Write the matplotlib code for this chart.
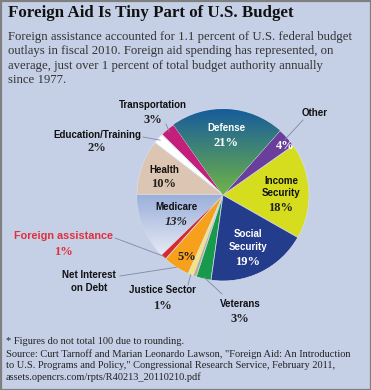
import numpy as np
import matplotlib
matplotlib.use("Agg")
import matplotlib.pyplot as plt
from matplotlib.colors import LinearSegmentedColormap
from matplotlib.patches import Rectangle

# budget shares, counter-clockwise starting at the Income Security slice
categories = ["Income Security", "Other", "Defense", "Transportation",
              "Education/Training", "Health", "Medicare", "Foreign assistance",
              "Net Interest on Debt", "Justice Sector", "Unlabeled", "Veterans",
              "Social Security"]
shares = [18.0, 3.7, 21.3, 2.8, 2.0, 10.4, 12.3, 1.1, 5.0, 1.0, 0.6, 2.8, 19.0]
pct_labels = ["18%", "4%", "21%", "3%", "2%", "10%", "13%", "1%", "5%", "1%", "", "3%", "19%"]
colors = ["#d6dc1e", "#6a3f9c", "#2a7a80", "#c41f7a", "#ffffff", "#dcc5b2",
          "#b8c6e6", "#d62a2e", "#f6a01c", "#f4e47c", "#b9a98e", "#179a4c", "#243c8c"]

title = "Foreign Aid Is Tiny Part of U.S. Budget"
intro = ["Foreign assistance accounted for 1.1 percent of U.S. federal budget",
         "outlays in fiscal 2010. Foreign aid spending has represented, on",
         "average, just over 1 percent of total budget authority annually",
         "since 1977."]
footnote = "* Figures do not total 100 due to rounding."
source = ["Source: Curt Tarnoff and Marian Leonardo Lawson, \"Foreign Aid: An Introduction",
          "to U.S. Programs and Policy,\" Congressional Research Service, February 2011,",
          "assets.opencrs.com/rpts/R40213_20110210.pdf"]

W, H = 371, 390
bg = "#c5d0e7"
serif = "Liberation Serif"
sans = "Liberation Sans"


def Y(y):
    return H - y


fig = plt.figure(figsize=(3.71, 3.90), dpi=100)
fig.patch.set_facecolor(bg)
ax = fig.add_axes([0, 0, 1, 1])

cx, cy, R = 223, Y(195), 86
wedges, _ = ax.pie(shares, colors=colors, startangle=-29.6, counterclock=True,
                   center=(cx, cy), radius=R,
                   wedgeprops=dict(edgecolor="#d9dde8", linewidth=0.5))
ax.set_xlim(0, W)
ax.set_ylim(0, H)
ax.set_aspect("equal")
ax.axis("off")


def gradient_fill(wedge, c_top, c_bot, y_top, y_bot):
    cmap = LinearSegmentedColormap.from_list("g", [c_bot, c_top])
    grad = np.linspace(0, 1, 256).reshape(-1, 1)
    im = ax.imshow(grad, cmap=cmap, origin="lower", aspect="auto",
                   extent=[cx - R, cx + R, y_bot, y_top], zorder=1.5)
    im.set_clip_path(wedge)


gradient_fill(wedges[2], "#175c9c", "#70b446", Y(109), Y(195))
gradient_fill(wedges[6], "#9bb0db", "#eef0f7", Y(195), Y(262))
ax.set_xlim(0, W)
ax.set_ylim(0, H)


def mid_point(i, frac):
    w = wedges[i]
    a = np.deg2rad((w.theta1 + w.theta2) / 2)
    return cx + R * frac * np.cos(a), cy + R * frac * np.sin(a)


# title and intro
ax.text(8, Y(13), title, family=serif, weight="bold", size=12.2, va="center", color="#111111")
for k, line in enumerate(intro):
    ax.text(8, Y(37 + 14.4 * k), line, family=serif, size=9.2, va="center", color="#333333")

lab = dict(family=sans, weight="bold", size=7, ha="center", va="center", color="#111111")
pct = dict(family=serif, weight="bold", size=9, ha="center", va="center", color="#222222")
white_lab = dict(lab, color="white")
white_pct = dict(pct, color="white")
line_kw = dict(color="#7d8aa3", lw=0.6)

# labels inside slices
ax.text(226, Y(128), "Defense", **white_lab)
ax.text(226, Y(143), pct_labels[2], **white_pct)
ax.text(285, Y(146), pct_labels[1], **white_pct)
ax.text(281, Y(181), "Income", **lab)
ax.text(281, Y(193), "Security", **lab)
ax.text(281, Y(208), pct_labels[0], **pct)
ax.text(248, Y(234), "Social", **white_lab)
ax.text(248, Y(247), "Security", **white_lab)
ax.text(248, Y(262), pct_labels[12], **white_pct)
ax.text(164, Y(170), "Health", **lab)
ax.text(164, Y(184), pct_labels[5], **pct)
ax.text(176, Y(207), "Medicare", **lab)
ax.text(176, Y(222), pct_labels[6], **dict(pct, style="italic"))
ax.text(187, Y(257), pct_labels[8], **pct)

# labels outside with leader lines
ax.text(153, Y(105), "Transportation", **lab)
ax.text(153, Y(120), pct_labels[3], **pct)
px, py = mid_point(3, 0.97)
ax.plot([166, px], [Y(124), py], **line_kw)

ax.text(97, Y(135), "Education/Training", **lab)
ax.text(97, Y(148), pct_labels[4], **pct)
px, py = mid_point(4, 0.97)
ax.plot([143, px], [Y(137), py], **line_kw)

ax.text(315, Y(113), "Other", **lab)
px, py = mid_point(1, 0.97)
ax.plot([303, px], [Y(120), py], **line_kw)

ax.text(63, Y(236), "Foreign assistance", **dict(lab, color="#e0303c", size=7.8))
ax.text(63, Y(252), pct_labels[7], **dict(pct, color="#e0303c"))
px, py = mid_point(7, 0.99)
ax.plot([115, px], [Y(238), py], **line_kw)

ax.text(89, Y(275), "Net Interest", **lab)
ax.text(89, Y(288), "on Debt", **lab)
px, py = mid_point(8, 1.0)
ax.plot([120, px], [Y(276), py], **line_kw)

ax.text(162, Y(290), "Justice Sector", **lab)
ax.text(162, Y(306), pct_labels[9], **pct)
px, py = mid_point(9, 1.0)
ax.plot([188, px], [Y(285), py], **line_kw)

ax.text(240, Y(304), "Veterans", **lab)
ax.text(240, Y(319), pct_labels[11], **pct)
px, py = mid_point(11, 0.98)
ax.plot([222, px], [Y(294), py], **line_kw)

# footnote and source
ax.text(6, Y(342), footnote, family=serif, size=7.5, va="center", color="#222222")
for k, line in enumerate(source):
    ax.text(6, Y(354 + 11.6 * k), line, family=serif, size=7.5, va="center", color="#222222")

ax.add_patch(Rectangle((0.5, 0.5), W - 1, H - 1, fill=False, edgecolor="#7f7f7f",
                       linewidth=1.6, clip_on=False, zorder=5))

fig.savefig("out.png", dpi=100, facecolor=bg)
